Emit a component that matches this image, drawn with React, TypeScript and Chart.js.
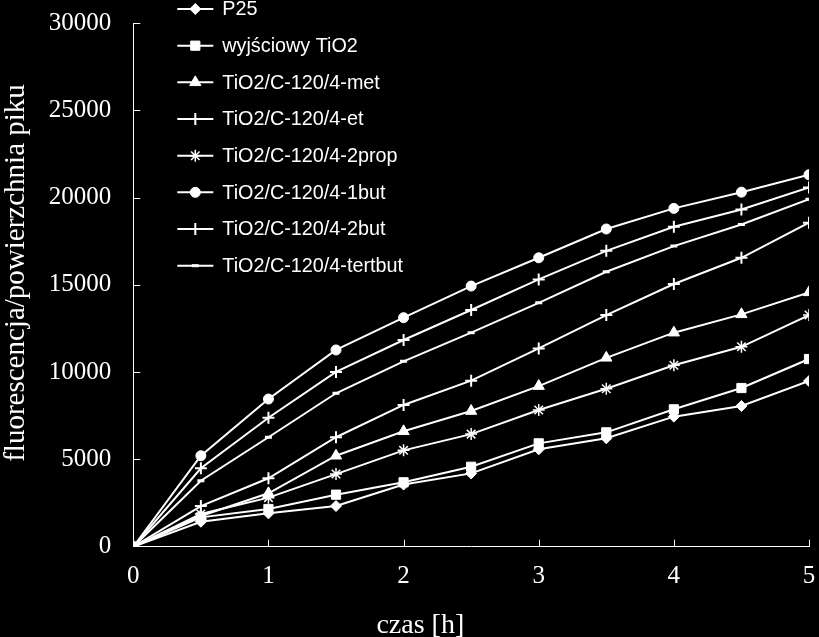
import React, { useEffect, useRef } from 'react';
import { Chart, registerables } from 'chart.js';
import { drawPoint } from 'chart.js/helpers';

Chart.register(...registerables);

// ---- data ----
const times = [0, 0.5, 1, 1.5, 2, 2.5, 3, 3.5, 4, 4.5, 5];
const seriesNames = [
  'P25',
  'wyjściowy TiO2',
  'TiO2/C-120/4-met',
  'TiO2/C-120/4-et',
  'TiO2/C-120/4-2prop',
  'TiO2/C-120/4-1but',
  'TiO2/C-120/4-2but',
  'TiO2/C-120/4-tertbut',
];
const p25 = [0, 1430, 1910, 2330, 3560, 4200, 5580, 6210, 7450, 8060, 9490];
const wyjsciowy = [0, 1680, 2160, 2980, 3690, 4580, 5920, 6550, 7870, 9090, 10750];
const met = [0, 1760, 3060, 5210, 6610, 7770, 9200, 10820, 12260, 13310, 14570];
const et = [0, 2330, 3920, 6270, 8120, 9510, 11360, 13270, 15050, 16550, 18560];
const prop2 = [0, 1870, 2810, 4160, 5520, 6450, 7830, 9050, 10390, 11450, 13270];
const but1 = [0, 5210, 8460, 11270, 13120, 14930, 16550, 18200, 19380, 20310, 21310];
const but2 = [0, 4490, 7390, 10010, 11840, 13560, 15310, 16950, 18330, 19320, 20580];
const tertbut = [0, 3780, 6270, 8790, 10620, 12260, 13970, 15750, 17220, 18460, 19910];
const seriesValues = [p25, wyjsciowy, met, et, prop2, but1, but2, tertbut];

const xTitle = 'czas [h]';
const yTitle = 'fluorescencja/powierzchnia piku';
const yMin = 0;
const yMax = 30000;
const yStep = 5000;
const xMin = 0;
const xMax = 5;
const xStep = 1;

// ---- styles ----
const markerStyles = [
  { pointStyle: 'rectRot', radius: 5.5, borderWidth: 1 },
  { pointStyle: 'rect', radius: 6.5, borderWidth: 1 },
  { pointStyle: 'triangle', radius: 6.5, borderWidth: 1 },
  { pointStyle: 'cross', radius: 6, borderWidth: 2 },
  { pointStyle: 'star', radius: 6, borderWidth: 1.5 },
  { pointStyle: 'circle', radius: 5, borderWidth: 1 },
  { pointStyle: 'cross', radius: 6, borderWidth: 2 },
  { pointStyle: 'line', radius: 3.5, borderWidth: 3 },
];

const WHITE = '#ffffff';
const serif = '"Liberation Serif", "Times New Roman", serif';
const sans = '"Liberation Sans", Arial, sans-serif';

const bgPlugin = {
  id: 'bg',
  beforeDraw(chart: any) {
    const ctx = chart.ctx;
    ctx.save();
    ctx.fillStyle = '#000000';
    ctx.fillRect(0, 0, chart.width, chart.height);
    ctx.restore();
  },
};

const innerTicksPlugin = {
  id: 'innerTicks',
  beforeDatasetsDraw(chart: any) {
    const ctx = chart.ctx;
    const { x, y } = chart.scales;
    const area = chart.chartArea;
    ctx.save();
    ctx.strokeStyle = WHITE;
    ctx.lineWidth = 1;
    y.ticks.forEach((t: any) => {
      if (t.value === yMin) return;
      const py = Math.round(y.getPixelForValue(t.value)) + 0.5;
      ctx.beginPath();
      ctx.moveTo(area.left, py);
      ctx.lineTo(area.left + 7, py);
      ctx.stroke();
    });
    x.ticks.forEach((t: any) => {
      if (t.value === xMin) return;
      const px = Math.round(x.getPixelForValue(t.value)) + 0.5;
      ctx.beginPath();
      ctx.moveTo(px, area.bottom);
      ctx.lineTo(px, area.bottom - 7);
      ctx.stroke();
    });
    ctx.restore();
  },
};

const titlesPlugin = {
  id: 'titles',
  afterDraw(chart: any) {
    const ctx = chart.ctx;
    const area = chart.chartArea;
    ctx.save();
    ctx.fillStyle = WHITE;
    ctx.textAlign = 'center';
    ctx.textBaseline = 'alphabetic';
    ctx.font = `28px ${serif}`;
    ctx.fillText(xTitle, area.left + 287, chart.height - 4.5);
    ctx.font = `29px ${serif}`;
    ctx.translate(23.5, area.top + 250);
    ctx.rotate(-Math.PI / 2);
    ctx.fillText(yTitle, 0, 0);
    ctx.restore();
  },
};

const legendPlugin = {
  id: 'customLegend',
  afterDraw(chart: any) {
    const ctx = chart.ctx;
    const area = chart.chartArea;
    const x0 = area.left + 44;
    const y0 = area.top - 14;
    const rowH = 36.67;
    ctx.save();
    ctx.font = `19.8px ${sans}`;
    ctx.textBaseline = 'middle';
    ctx.textAlign = 'left';
    chart.data.datasets.forEach((ds: any, i: number) => {
      const y = y0 + i * rowH;
      ctx.strokeStyle = WHITE;
      ctx.fillStyle = WHITE;
      ctx.lineWidth = 2;
      ctx.beginPath();
      ctx.moveTo(x0, y);
      ctx.lineTo(x0 + 36, y);
      ctx.stroke();
      const m = markerStyles[i];
      ctx.lineWidth = m.borderWidth;
      drawPoint(ctx, { pointStyle: m.pointStyle, radius: m.radius, rotation: 0, borderWidth: m.borderWidth }, x0 + 18, y);
      ctx.fillStyle = WHITE;
      ctx.fillText(ds.label, x0 + 45, y + 1);
    });
    ctx.restore();
  },
};

export default function App() {
  const ref = useRef<HTMLCanvasElement>(null);

  useEffect(() => {
    document.body.style.margin = '0';
    document.body.style.background = '#000';
    const canvas = ref.current;
    if (!canvas) return;
    const datasets = seriesNames.map((name, i) => ({
      label: name,
      data: times.map((t, j) => ({ x: t, y: seriesValues[i][j] })),
      borderColor: WHITE,
      backgroundColor: WHITE,
      borderWidth: 2,
      pointStyle: markerStyles[i].pointStyle,
      pointRadius: markerStyles[i].radius,
      pointBorderWidth: markerStyles[i].borderWidth,
      pointBackgroundColor: WHITE,
      pointBorderColor: WHITE,
      tension: 0,
      fill: false,
    }));
    const chart = new Chart(canvas, {
      type: 'line',
      data: { datasets },
      options: {
        responsive: false,
        animation: false,
        maintainAspectRatio: false,
        layout: { padding: { top: 23, right: 10, bottom: 0, left: 0 } },
        plugins: {
          legend: { display: false },
          tooltip: { enabled: false },
          title: { display: false },
        },
        scales: {
          x: {
            type: 'linear',
            min: xMin,
            max: xMax,
            ticks: {
              stepSize: xStep,
              color: WHITE,
              font: { family: serif, size: 25 },
              padding: 15,
              maxRotation: 0,
              callback: (v: any) => String(v),
            },
            grid: { display: true, drawOnChartArea: false, drawTicks: false },
            border: { display: true, color: WHITE, width: 1 },
            afterFit(scale: any) {
              scale.height = 90.3;
              scale.paddingLeft = 0;
              scale.paddingRight = 0;
            },
          },
          y: {
            type: 'linear',
            min: yMin,
            max: yMax,
            ticks: {
              stepSize: yStep,
              color: WHITE,
              font: { family: serif, size: 25 },
              padding: 22,
              callback: (v: any) => String(v),
            },
            grid: { display: true, drawOnChartArea: false, drawTicks: false },
            border: { display: true, color: WHITE, width: 1 },
            afterFit(scale: any) {
              scale.width = 133.3;
              scale.paddingTop = 0;
              scale.paddingBottom = 0;
            },
          },
        },
      },
      plugins: [bgPlugin, innerTicksPlugin, titlesPlugin, legendPlugin],
    } as any);
    return () => chart.destroy();
  }, []);

  return (
    <div style={{ width: 819, height: 637, background: '#000' }}>
      <canvas ref={ref} width={819} height={637} style={{ display: 'block' }} />
    </div>
  );
}
